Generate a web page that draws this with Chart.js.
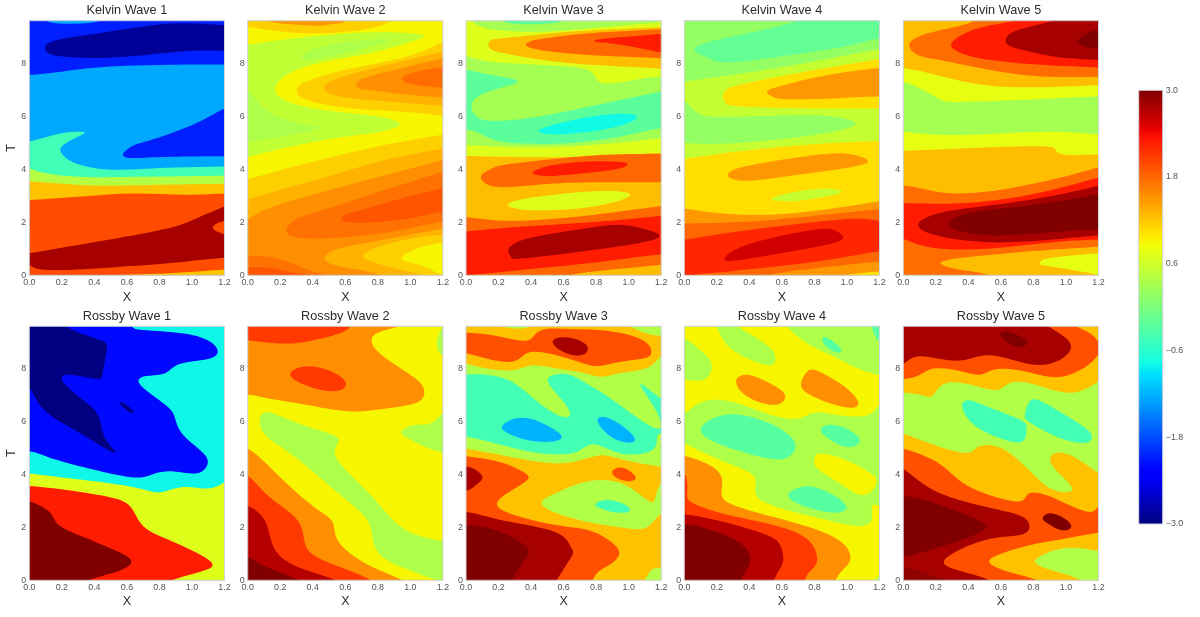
<!DOCTYPE html>
<html><head><meta charset="utf-8">
<style>html,body{margin:0;padding:0;background:#fff;width:1200px;height:617px;overflow:hidden}canvas{position:absolute}</style>
<script src="https://cdn.jsdelivr.net/npm/chart.js@4"></script></head><body>
<script>
// Contour regions: each region is x,T,x,T,... and its level value.
const fullPanel=[-3,-5,3,-5,3,15,-3,15];
const colorbarRange=[-3,3];
const colorbarTicks=[-3,-1.8,-0.6,0.6,1.8,3];
const xTickValues=[0,0.2,0.4,0.6,0.8,1,1.2];
const tTickValues=[0,2,4,6,8];

const kelvin1Levels=[-1.26,-2.07,-1.26,-2.88,-2.07,-0.43,0.41,1.23,1.98,1.23,2.8,1.98];
const kelvin1Contours=[fullPanel,
[-.1,7.5,0,7.55,.2,7.68,.4,7.82,.6,7.9,.8,7.93,1,7.95,1.2,7.95,1.3,7.95,1.3,11,-.1,11],
[.08,9.75,.13,9.55,.25,9.5,.4,9.55,.5,9.75],
[.1,8.57,.13,8.78,.23,8.94,.43,9.13,.64,9.32,.85,9.48,1.05,9.48,1.2,9.43,1.3,9.43,1.3,8.46,1.2,8.46,.97,8.46,.72,8.31,.43,8.2,.23,8.25,.13,8.36],
[.58,4.57,.62,4.8,.68,4.98,.845,5.3,1.05,5.8,1.2,6.3,1.3,6.45,1.3,4.45,1.2,4.49,.97,4.48,.74,4.45,.62,4.43],
[-.1,5,0,5.05,.13,5.25,.23,5.38,.34,5.38,.28,5.18,.22,4.93,.2,4.67,.29,4.23,.5,4,.74,4.04,1.2,4.1,1.3,4.1,1.3,3,-.1,3],
[-.1,4.15,0,4.06,.09,3.87,.33,3.72,.64,3.72,1.2,3.76,1.3,3.76,1.3,3,-.1,3],
[-.1,3.58,0,3.56,.33,3.4,.74,3.41,1.2,3.45,1.3,3.45,1.3,2,-.1,2],
[-.1,2.82,0,2.84,.33,2.97,.64,3.09,.95,3.03,1.2,3.09,1.3,3.1,1.3,-.6,-.1,-.6],
[.5,-.1,.55,0,.8,.06,1,.13,1.2,.22,1.3,.25,1.3,-.4],
[-.1,.75,0,.83,.23,1.08,.54,1.4,.85,1.77,1,2.09,1.2,2.6,1.3,2.85,1.3,.6,1.2,.67,.85,.45,.54,.33,.09,.19,0,.5,-.1,.4],
[1.3,2.15,1.2,2.05,1.13,1.8,1.2,1.56,1.3,1.45]];

const kelvin2Levels=[0.9,0.51,0.36,0.36,1.14,1.32,1.56,1.77,1.14,1.32,1.56,1.74,1.92,1.32,1.14,0.9,1.74,1.92,1.14,1.5];
const kelvin2Contours=[fullPanel,
[-.1,8.65,0,8.69,.23,8.9,.54,9.07,.84,9.17,1.07,9.03,.99,8.82,.8,8.44,.54,8.13,.29,7.69,.18,7,.29,6.49,.54,6.18,.79,5.99,.92,5.72,.82,5.43,.54,5.18,.23,4.8,0,4.45,-.1,4.3],
[.342,8.31,.434,8.57,.64,8.82,.823,8.88,.84,8.8,.64,8.44,.455,8.19,.362,8.15],
[-.1,7.2,0,7,.086,6.36,.19,5.99,.33,5.71,.444,5.58,.33,5.38,.19,5.2,0,5.04,-.1,5],
[1.3,8.9,1.2,8.82,.99,8.25,.64,7.81,.37,7.31,.32,6.99,.37,6.62,.64,6.3,.95,6.18,1.2,6.01,1.3,5.95],
[1.3,8.55,1.2,8.44,.946,8.06,.7,7.69,.536,7.37,.479,7.09,.536,6.81,.74,6.62,1.2,6.39,1.3,6.3],
[1.3,8.3,1.2,8.19,.946,7.81,.782,7.56,.7,7.38,.67,7.18,.7,7.02,.782,6.97,.987,6.81,1.2,6.72,1.3,6.7],
[1.3,7.9,1.2,7.84,1.05,7.69,.95,7.4,1.05,7.18,1.2,7.08,1.3,7.05],
[-.1,3.5,0,3.62,.229,4.01,.536,4.48,.844,4.92,1.2,5.3,1.3,5.4,1.3,-.6,-.1,-.6],
[-.1,2.75,0,2.87,.229,3.28,.536,3.79,.844,4.35,1.2,4.77,1.3,4.85,1.3,-.6,-.1,-.6],
[-.1,1.95,0,2.09,.127,2.53,.434,3.09,.74,3.6,1.2,4.35,1.3,4.5,1.3,-.6,-.1,-.6],
[.24,1.71,.27,1.95,.33,2.2,.536,2.59,.844,3.22,1.2,3.91,1.3,4.1,1.3,1.95,1.2,2.03,.946,1.71,.64,1.46,.373,1.4,.27,1.52],
[.58,2.13,.62,2.32,.74,2.53,.946,2.9,1.2,3.28,1.3,3.4,1.3,2.3,1.2,2.4,.946,2.09,.7,1.99,.62,2.02],
[.48,.68,.577,1.02,.782,1.27,.987,1.52,1.2,1.74,1.3,1.8,1.3,-.5,.9,-.3,.823,0,.64,.26,.536,.39],
[.72,.68,.75,.9,.844,1.14,1.05,1.43,1.2,1.52,1.3,1.55,1.3,-.5,1.1,-.3,1.07,0,.946,.18,.8,.45],
[.956,.68,1.05,1.02,1.2,1.23,1.3,1.3,1.3,-.1,1.2,0,1.09,.33,.987,.52],
[-.1,.7,0,.7,.127,.7,.27,.45,.393,.14,.475,0,.55,-.3,-.1,-.3],
[-.1,.29,0,.29,.127,.29,.29,.08,.37,0,.45,-.3,-.1,-.3],
[-.1,9.42,0,9.38,.229,9.19,.5,9.15,.74,9.32,.88,9.6,.95,10,-.1,10],
[.08,10,.127,9.6,.27,9.48,.414,9.41,.536,9.5,.6,9.6,.65,10]];

const kelvin3Levels=[0.3,-0.24,0.72,1.26,1.8,2.28,-0.24,-0.78,0.72,1.26,1.8,2.28,0.72,1.8,2.28,1.26,2.8];
const kelvin3Contours=[fullPanel,
[.2,9.75,.28,9.5,.55,9.52,.6,9.75],
[-.1,9.75,0,9.7,.04,9.6,.14,9.3,.45,9.2,.75,9.32,1.2,9.54,1.3,9.56,1.3,7.35,1.2,7.5,.998,7.33,.845,7.25,.79,7.5,.71,7.81,.445,7.94,.137,8.06,0,8.31,-.1,8.4],
[.141,8.69,.165,8.87,.24,8.94,.547,9.13,.855,9.26,1.2,9.35,1.3,9.4,1.3,7.7,1.2,7.79,.752,7.94,.466,8.13,.24,8.38,.165,8.5],
[.38,8.67,.41,8.83,.507,8.94,.752,9.13,1.2,9.28,1.3,9.32,1.3,8.1,1.2,8.19,.752,8.31,.466,8.5],
[.79,8.84,.87,8.93,.957,8.98,1.2,9.1,1.3,9.15,1.3,8.3,1.2,8.4,.957,8.69,.86,8.76],
[-.1,7.85,0,7.75,.137,7.56,.316,7.33,.2,7.06,.076,6.74,.04,6.36,.076,5.99,.178,5.84,.445,5.99,.752,6.36,1.2,6.93,1.3,7.05,1.3,5.4,1.2,5.55,.957,5.23,.65,5,.342,4.98,.178,5.11,.076,5.38,0,5.48,-.1,5.5],
[.455,5.45,.547,5.67,.752,5.96,.957,6.08,1.04,5.96,.957,5.67,.752,5.42,.547,5.32],
[-.1,4.95,0,4.92,.24,4.86,.65,4.86,1.2,5.17,1.3,5.25,1.3,-.6,-.1,-.6],
[-.1,4.5,0,4.5,.547,4.45,.957,4.54,1.2,4.6,1.3,4.6,1.3,-.6,-.1,-.6],
[.1,3.79,.178,4.04,.24,4.16,.547,4.38,.855,4.54,1.2,4.58,1.3,4.58,1.3,3.5,1.2,3.51,.855,3.5,.547,3.47,.24,3.32,.127,3.5],
[.414,3.89,.46,4.02,.547,4.16,.752,4.29,.957,4.26,.977,4.14,.916,4,.752,3.87,.547,3.75,.445,3.79],
[.266,2.68,.363,2.88,.547,3.03,.793,3.16,.957,3.13,.998,3,.916,2.78,.752,2.57,.547,2.47,.342,2.49],
[-.1,2.25,0,2.21,.24,2.06,.547,2.15,.855,2.34,1.2,2.62,1.3,2.7,1.3,-.6,-.1,-.6],
[-.1,1.62,0,1.65,.342,1.84,.752,1.99,1.2,2.24,1.3,2.3,1.3,.7,1.2,.79,.855,.52,.342,.2,.014,0,-.1,-.1],
[.65,0,.855,.18,1.2,.39,1.3,.45,1.3,-.6,.6,-.3],
[.266,.96,.342,1.31,.547,1.58,.752,1.77,.937,1.9,1.08,1.74,1.18,1.52,1.1,1.27,.855,1.02,.547,.77,.32,.63,.29,.7]];

const kelvin4Levels=[0.54,0.18,-0.18,0.18,1.05,1.5,1.05,1.5,0.54,1.5,1.8,2.22,1.5,1.05,2.58];
const kelvin4Contours=[fullPanel,
[-.1,11,1.3,11,1.3,8.55,1.2,8.53,.744,8,.334,7.6,0,7.31,-.1,7.25],
[.07,8.5,.17,8.82,.437,9.19,.7,9.6,.8,9.9,1.3,9.9,1.3,8.85,1.2,8.94,.95,8.57,.57,8.25,.26,8.03,.15,8.25],
[-.1,6.8,0,6.62,.088,6.11,.23,5.99,.54,6.01,.846,6.01,1.045,5.71,.846,5.36,.54,5.11,.23,4.96,0,5,-.1,5.02],
[.24,6.75,.27,7,.334,7.15,.64,7.56,1.2,8.15,1.3,8.25,1.3,6.2,1.2,6.29,.744,6.29,.334,6.38,.27,6.52],
[.512,6.89,.55,7.05,.64,7.2,.9,7.57,1.2,7.81,1.3,7.85,1.3,6.7,1.2,6.74,.946,6.68,.64,6.64,.56,6.73],
[-.1,4.35,0,4.38,.334,4.67,.744,4.92,1.2,5.07,1.3,5.1,1.3,-.6,-.1,-.6],
[.277,3.81,.334,4.04,.54,4.29,.785,4.5,.99,4.58,1.118,4.31,1.03,4.1,.785,3.87,.54,3.66,.375,3.57,.293,3.66],
[.55,2.9,.64,3.09,.846,3.26,.96,3.16,.867,2.97,.703,2.82,.58,2.82],
[-.1,2.55,0,2.53,.23,2.34,.54,2.3,.846,2.47,1.2,2.8,1.3,2.9,1.3,-.6,-.1,-.6],
[-.1,1.95,0,1.96,.23,1.99,.54,2.09,.846,2.28,1.2,2.49,1.3,2.55,1.3,-.6,-.1,-.6],
[-.1,1.2,0,1.33,.334,1.65,.744,1.96,1.05,2.13,1.2,2.03,1.3,2,1.3,.85,1.2,.93,.744,.45,0,0,-.1,-.1],
[.45,-.3,.52,0,.846,.29,1.2,.52,1.3,.58,1.3,-.6],
[.92,-.3,.99,0,1.2,.14,1.3,.2,1.3,-.6],
[.262,.64,.334,1.02,.54,1.4,.744,1.65,.887,1.74,.963,1.46,.908,1.21,.64,.89,.334,.58]];

const kelvin5Levels=[0.3,0.78,1.26,1.77,2.28,2.8,3,0.78,1.26,1.77,2.28,2.8,3,1.26,0.78];
const kelvin5Contours=[fullPanel,
[-.1,11,1.3,11,1.3,6.7,1.2,6.74,.74,6.62,.33,6.55,.226,6.68,.1,7.06,0,7.27,-.1,7.3],
[-.1,11,1.3,11,1.3,7.15,1.2,7.18,.74,7.09,.43,7.25,.165,7.62,0,7.81,-.1,7.85],
[.045,8.69,.123,9.07,.33,9.38,.43,9.6,.5,10,1.3,10,1.3,7.5,1.2,7.5,.844,7.5,.535,7.75,.226,8.13,.1,8.31],
[.3,8.69,.37,9.07,.494,9.38,.68,9.6,.75,10,1.3,10,1.3,7.8,1.2,7.84,.844,7.94,.535,8.13,.37,8.38],
[.632,8.84,.66,9.1,.74,9.32,.905,9.57,1,9.9,1.3,9.9,1.3,8.1,1.2,8.13,.947,8.23,.74,8.5,.66,8.65],
[1.075,8.85,1.15,9.17,1.2,9.22,1.3,9.25,1.3,8.5,1.2,8.53,1.13,8.63],
[-.1,5.45,0,5.42,.226,5.3,.535,5.33,.905,5.42,1.2,5.3,1.3,5.25,1.3,-.6,-.1,-.6],
[-.1,4.7,0,4.7,.33,4.77,.823,4.86,.926,4.73,.99,4.54,1.2,4.57,1.3,4.57,1.3,-.6,-.1,-.6],
[-.1,3.4,0,3.38,.123,3.28,.33,3.09,.638,3.28,.947,3.66,1.2,4.08,1.3,4.2,1.3,-.6,-.1,-.6],
[-.1,2.72,0,2.72,.33,2.72,.638,2.9,.947,3.28,1.2,3.69,1.3,3.8,1.3,1.3,1.2,1.33,.947,1.27,.535,1.02,.185,1.04,0,1.4,-.1,1.5],
[.103,1.9,.165,2.21,.33,2.47,.638,2.72,.947,3.03,1.2,3.38,1.3,3.5,1.3,1.5,1.2,1.51,.74,1.27,.43,1.31,.185,1.56],
[.3,1.9,.37,2.28,.638,2.53,.947,2.78,1.2,3.07,1.3,3.2,1.3,1.7,1.2,1.71,.947,1.65,.6,1.5,.39,1.65],
[.236,.45,.3,.6,.43,.7,.74,.89,1.2,1.08,1.3,1.12,1.3,-.6,.6,-.4,.535,0,.33,.23],
[.84,.45,.875,.6,.947,.68,1.2,.83,1.3,.88,1.3,-.1,1.2,0,1.15,.08,.947,.3,.875,.36]];

const rossby1Levels=[-0.8,-2.2,-3,-3,0.72,2.28,3];
const rossby1Contours=[fullPanel,
[.64,10,.64,9.56,.74,9.45,.948,9.32,1.09,9.07,1.15,8.69,1.11,8.38,.967,8.25,.886,8.06,.825,7.79,.72,7.72,.677,7.52,.72,7.18,.825,6.68,.886,6.3,.917,5.74,.99,5.23,1.07,4.79,1.09,4.42,1.03,4.04,.886,4.13,.763,4.04,.66,3.89,.435,4.14,.168,4.54,0,4.88,-.1,4.7,-.1,10],
[-.1,10,.23,10,.23,9.56,.435,9.07,.47,8.75,.445,7.87,.414,7.62,.25,7.77,.21,7.5,.33,6.8,.425,6.24,.455,5.42,.527,4.89,.455,5.04,.27,5.74,.086,6.43,0,7.31,-.1,7.4],
[.553,6.72,.6,6.62,.64,6.34,.6,6.43],
[-.1,4.1,0,4.04,.33,3.79,.64,3.53,.784,3.32,.886,3.47,.99,3.53,1.11,3.47,1.2,3.72,1.3,3.95,1.3,-.6,-.1,-.6],
[-.1,3.6,0,3.56,.23,3.41,.496,3.12,.62,2.78,.7,2.03,.845,1.58,1.03,1.02,1.118,.6,1.05,.33,.876,0,.8,-.4,-.1,-.4],
[-.1,3.1,0,2.97,.127,2.59,.178,2.09,.33,1.65,.517,1.14,.62,.73,.537,.33,.363,0,.3,-.4,-.1,-.4]];

const rossby2Levels=[0.9,1.56,2.1,2.1,0.36,0.36,0.36,1.56,2.1,2.72,3];
const rossby2Contours=[fullPanel,
[-.1,6.95,0,7.02,.123,6.87,.33,6.68,.618,6.39,.803,6.49,1.03,6.7,1.073,7.18,1.03,7.62,.885,8.25,.782,8.82,.79,9.32,.936,9.6,1,10,-.1,10],
[-.1,9.05,0,9.09,.23,8.94,.434,9.13,.577,9.38,.63,9.6,.68,10,-.1,10],
[.27,7.69,.31,8,.414,8.06,.536,7.81,.598,7.43,.536,7.16,.393,7.31],
[1.25,10,1.2,9.6,1.167,9,1.2,8.5,1.3,8.4,1.3,10],
[.95,5.63,1.03,5.89,1.13,5.92,1.2,6.33,1.3,6.5,1.3,4.7,1.2,4.82,1.07,5.11,.977,5.42],
[.086,6.11,.137,6.33,.33,5.86,.547,5.42,.536,4.98,.577,4.35,.762,3.22,.905,2.21,1.05,1.71,1.2,1.5,1.3,1.45,1.3,-.2,1.17,0,1,.39,.844,.83,.772,1.46,.742,2.21,.618,2.97,.496,3.6,.33,4.48,.19,5.11,.096,5.61],
[-.1,5.1,0,4.98,.123,4.35,.25,3.6,.414,2.72,.526,2.21,.557,1.46,.742,.58,.956,0,1,-.4,-.1,-.4],
[-.1,4.1,0,3.97,.123,3.16,.29,2.4,.342,1.71,.383,1.08,.536,.58,.762,0,.8,-.4,-.1,-.4],
[-.1,2.9,0,2.8,.096,2.34,.137,1.71,.188,1.02,.33,.45,.547,0,.6,-.4,-.1,-.4],
[-.1,.95,0,.89,.127,.45,.32,0,.38,-.4,-.1,-.4]];

const rossby3Levels=[0.39,1.23,1.95,2.8,-0.42,-1.2,-1.2,1.23,0.39,1.95,-0.42,1.95,2.8,2.8,3,0.39];
const rossby3Contours=[fullPanel,
[-.1,9.6,0,9.7,.2,9.6,.35,9.52,.42,9.75,.96,9.75,1.1,9.35,1.2,9.26,1.3,9.2,1.3,8.7,1.2,8.5,1.12,8.03,.957,7.87,.834,7.69,.711,7.87,.547,8,.404,8.13,.3,7.94,.137,8,0,8.19,-.1,8.25],
[-.1,9.35,0,9.35,.178,9.26,.363,9.04,.424,9.32,.506,9.5,.63,9.48,.813,9.45,1,9.26,1.11,8.94,1.13,8.57,1.08,8.38,.916,8.25,.793,8.1,.63,8.38,.404,8.65,.32,8.31,.178,8.31,0,8.59,-.1,8.6],
[.537,9,.588,9.17,.69,9.07,.746,8.75,.69,8.5,.588,8.69],
[-.1,7.8,0,7.77,.137,7.75,.28,7.5,.404,6.93,.547,6.3,.63,6.24,.608,6.68,.516,7.37,.527,7.69,.63,7.77,.752,7.37,.895,6.87,1.16,5.74,1.17,6.36,1.08,7.25,1.1,7.33,1.2,6.87,1.3,6.7,1.3,5.6,1.2,5.55,1.17,5.36,1.14,4.92,.957,4.77,.793,5.17,.69,4.86,.547,4.79,.342,4.92,0,5.45,-.1,5.4],
[.225,5.77,.28,6.05,.383,6.11,.506,5.8,.582,5.45,.527,5.26,.383,5.3,.27,5.55],
[.813,5.99,.855,6.14,.936,5.92,1.03,5.42,1,5.23,.895,5.42],
[-.1,5,0,4.98,.342,4.6,.608,4.42,.813,4.73,.957,4.54,1.2,4.29,1.3,4.2,1.3,-.6,-.1,-.6],
[.475,2.97,.588,3.35,.752,3.72,.957,3.66,1.11,3.04,1.16,3.1,1.2,3.7,1.3,4,1.3,2.3,1.2,2.54,1.11,1.98,.957,2.03,.752,2.21,.547,2.59],
[-.1,4.7,0,4.67,.2,4.48,.342,4.1,.377,3.85,.32,3.53,.2,2.97,.28,2.53,.547,2.09,.752,1.9,.895,1.4,.936,1.02,.895,.64,.813,.33,.78,0,.72,-.5,-.1,-.5],
[.8,2.87,.875,3.03,.977,2.84,1,2.62,.916,2.57,.834,2.72],
[.9,4.1,.957,4.26,1.02,4.04,1.04,3.85,1,3.75,.936,3.85],
[-.1,4.3,0,4.29,.055,4.16,.1,3.87,.055,3.6,0,3.38,-.1,3.3],
[-.1,2.5,0,2.59,.24,2.21,.547,1.84,.63,1.27,.654,1.02,.608,.52,.557,0,.5,-.5,-.1,-.5],
[-.1,2.05,0,2.09,.178,1.9,.32,1.46,.383,1.08,.342,.64,.28,0,.22,-.5,-.1,-.5],
[1.05,-.3,1.1,0,1.14,.39,1.2,.45,1.3,.5,1.3,-.3]];

const rossby4Levels=[0.9,0.36,0.36,0.36,0.36,0.9,-0.27,-0.27,-0.27,-0.27,-0.27,1.56,1.56,1.56,2.1,2.72,3,0.36];
const rossby4Contours=[fullPanel,
[-.1,9.2,0,9.13,.068,8.82,.15,8.38,.16,7.94,.109,7.56,0,7.6,-.1,7.55],
[.15,10,.2,9.6,.25,9,.355,8.5,.509,8.15,.55,8.31,.54,8.69,.437,9.19,.33,9.6,.3,10],
[.55,10,.63,9.6,.744,9,.908,8.5,1.07,8,1.2,7.77,1.3,7.7,1.3,10],
[-.1,6.1,0,6.3,.088,6.68,.19,6.8,.334,6.68,.54,6.24,.703,6.11,.806,6.36,.95,6.24,1.133,6.24,1.2,6.68,1.3,6.9,1.3,2.7,1.2,2.8,1.15,2.78,1.145,2.21,1.03,2.09,.846,2.34,.54,2.84,.437,3.35,.426,3.97,.232,4.48,0,5.17,-.1,5.3],
[.81,4.6,.846,4.77,.99,4.54,1.155,3.97,1.165,3.6,1.09,3.22,.95,3.72,.82,4.23],
[.109,5.71,.19,6.11,.334,6.24,.54,5.86,.672,5.23,.64,4.73,.54,4.6,.334,4.92,.17,5.3],
[.842,5.67,.908,5.86,1.01,5.67,1.076,5.3,1.01,5.04,.908,5.3],
[.646,3.26,.744,3.53,.867,3.35,.99,2.84,.93,2.57,.785,2.72,.682,2.97],
[.853,9.13,.887,9.13,.963,8.75,.93,8.63,.867,8.88],
[1.13,10,1.155,9.6,1.2,9,1.3,8.8,1.3,10],
[.324,7.5,.355,7.72,.437,7.69,.56,7.31,.615,6.99,.58,6.68,.477,6.72,.365,7.06],
[.723,7.43,.764,7.87,.826,7.87,.97,7.37,1.06,6.8,1.03,6.55,.908,6.68,.764,7.06],
[-.1,4.75,0,4.69,.15,4.35,.232,3.85,.232,3.22,.314,2.84,.54,2.4,.785,1.96,.97,1.4,1.014,.77,.97,.39,.93,0,.9,-.5,-.1,-.5],
[-.1,4.2,0,4.04,.022,3.35,.047,2.97,.232,2.53,.54,2.09,.744,1.58,.812,.77,.765,.33,.74,0,.7,-.5,-.1,-.5],
[-.1,2.45,0,2.49,.232,2.21,.498,1.71,.58,1.33,.606,.77,.58,.39,.55,0,.5,-.5,-.1,-.5],
[-.1,2.05,0,2.11,.19,1.84,.355,1.33,.4,.77,.375,.33,.344,0,.3,-.5,-.1,-.5],
[1.15,-.2,1.175,0,1.2,.14,1.3,.2,1.3,-.3]];

const rossby5Levels=[0.39,1.23,1.95,2.8,3,-0.42,-0.42,1.23,1.95,2.8,3,2.92,3,1.23,0.39];
const rossby5Contours=[fullPanel,
[-.1,7,0,7.09,.123,7,.185,6.97,.257,7.46,.43,7.37,.576,7.18,.658,7.46,.803,7.43,1.03,7.06,1.2,7.56,1.3,7.8,1.3,11,-.1,11],
[-.1,7.55,0,7.6,.103,7.75,.185,8,.33,7.94,.473,7.75,.576,8,.782,7.87,.967,7.69,1.15,8.25,1.2,8.82,1.15,9.32,1.06,9.6,1,10,-.1,10],
[-.1,8,0,8.13,.103,8.5,.33,8.25,.5,8.53,.68,8.31,.823,8.15,.947,8.31,1.025,8.75,.988,9.2,.885,9.6,.8,10,-.1,10],
[.6,9.28,.64,9.4,.74,9.13,.755,8.94,.7,8.82,.63,9.07],
[.37,6.49,.41,6.78,.535,6.49,.72,6.05,.747,5.74,.73,5.26,.617,5.36,.453,5.8],
[.757,6.24,.79,6.78,.885,6.62,1.09,5.86,1.148,5.48,1.11,5.21,.947,5.42,.782,5.99],
[-.1,5.65,0,5.55,.226,5.04,.4,4.82,.46,5.04,.61,4.98,.782,4.1,.905,3.47,1.03,3.41,.998,3.79,.916,4.35,.926,4.73,1.03,4.73,1.2,4.04,1.3,3.8,1.3,-.6,-.1,-.6],
[-.1,5,0,4.96,.185,4.54,.31,3.97,.432,3.47,.7,2.97,.76,3.25,.885,3.22,1.13,2.57,1.2,2.9,1.3,3.1,1.3,-.6,-.1,-.6],
[-.1,4.35,0,4.23,.165,3.47,.39,2.97,.638,2.59,.74,2.34,.767,2.03,.72,1.71,.535,1.58,.33,1.08,.26,.68,.33,.39,.535,0,.6,-.5,-.1,-.5],
[-.1,3.15,0,3.19,.226,2.84,.432,2.34,.494,2.03,.43,1.71,.226,1.27,0,.89,-.1,.85],
[-.1,.55,0,.52,.123,.26,.257,0,.32,-.4,-.1,-.4],
[.86,2.34,.905,2.53,.985,2.34,1.03,2.03,.967,1.9,.894,2.15],
[.535,.7,.617,1.02,.782,1.33,.947,1.52,1.2,1.8,1.3,1.9,1.3,-.5,.78,-.3,.823,0,.638,.33],
[.81,.7,.947,1.14,1.07,1.21,1.2,1.11,1.3,1.1,1.3,-.3,1.05,-.3,1.09,0,.947,.33]];

const panelTitles=["Kelvin Wave 1","Kelvin Wave 2","Kelvin Wave 3","Kelvin Wave 4","Kelvin Wave 5","Rossby Wave 1","Rossby Wave 2","Rossby Wave 3","Rossby Wave 4","Rossby Wave 5"];
const panelLevels=[kelvin1Levels,kelvin2Levels,kelvin3Levels,kelvin4Levels,kelvin5Levels,rossby1Levels,rossby2Levels,rossby3Levels,rossby4Levels,rossby5Levels];
const panelContours=[kelvin1Contours,kelvin2Contours,kelvin3Contours,kelvin4Contours,kelvin5Contours,rossby1Contours,rossby2Contours,rossby3Contours,rossby4Contours,rossby5Contours];

const colLeft=[29.3,247.7,466,684.3,903.3], rowTop=[20.7,326.3], plotW=195.2, plotH=[254.6,254];
const FONT='"Liberation Sans",Arial,sans-serif', FRAME='#cfd3da';

function lerp(stops,t){for(let i=1;i<stops.length;i++){if(t<=stops[i][0]){const a=stops[i-1],b=stops[i];return a[1]+(b[1]-a[1])*(t-a[0])/(b[0]-a[0]);}}return stops[stops.length-1][1];}
const jetR=[[0,0],[.35,0],[.66,1],[.89,1],[1,.5]],jetG=[[0,0],[.125,0],[.375,1],[.64,1],[.91,0],[1,0]],jetB=[[0,.5],[.11,1],[.34,1],[.65,0],[1,0]];
function jet(t){t=Math.min(1,Math.max(0,t));return `rgb(${Math.round(255*lerp(jetR,t))},${Math.round(255*lerp(jetG,t))},${Math.round(255*lerp(jetB,t))})`;}
function levelColor(v){return jet((v-colorbarRange[0])/(colorbarRange[1]-colorbarRange[0]));}

// Traces a closed smooth outline through each region's points as placed by the chart's scales.
// Points outside the plot are kept as hard corners so that they never pull on the visible edge.
function smoothClosedPath(ctx,pts,a){
  const n=pts.length,K=1.5,ctrl=[];
  const isHard=p=>p.x<a.left-3||p.x>a.right+3||p.y<a.top-3||p.y>a.bottom+3;
  for(let i=0;i<n;i++){
    const p=pts[i];
    if(isHard(p)){for(let r=0;r<3;r++)ctrl.push({x:p.x,y:p.y});continue;}
    const u=pts[(i+n-1)%n],v=pts[(i+1)%n];
    const sx=(u.x+4*p.x+v.x)/6,sy=(u.y+4*p.y+v.y)/6;
    ctrl.push({x:p.x+K*(p.x-sx),y:p.y+K*(p.y-sy)});
  }
  const m=ctrl.length,at=i=>ctrl[(i+m)%m];
  ctx.moveTo((at(-1).x+4*at(0).x+at(1).x)/6,(at(-1).y+4*at(0).y+at(1).y)/6);
  for(let i=0;i<m;i++){const c1=at(i),c2=at(i+1),c3=at(i+2);
    ctx.bezierCurveTo((2*c1.x+c2.x)/3,(2*c1.y+c2.y)/3,(c1.x+2*c2.x)/3,(c1.y+2*c2.y)/3,(c1.x+4*c2.x+c3.x)/6,(c1.y+4*c2.y+c3.y)/6);}
  ctx.closePath();
}
const regionFill={id:'regionFill',beforeDatasetDraw(chart,args){
  const els=args.meta.data; if(!els||els.length<3||chart.config.type!=='scatter')return;
  const a=chart.chartArea,ctx=chart.ctx;
  ctx.save();ctx.beginPath();ctx.rect(a.left,a.top,a.width,a.height);ctx.clip();
  ctx.beginPath();smoothClosedPath(ctx,els,a);
  ctx.fillStyle=chart.data.datasets[args.index].backgroundColor;ctx.fill();ctx.restore();
}};
const frame={id:'frame',afterDraw(chart){const a=chart.chartArea,c=chart.ctx;c.save();c.strokeStyle=FRAME;c.lineWidth=1;c.strokeRect(a.left,a.top,a.width,a.height);c.restore();}};

function addCanvas(left,top,w,h){const c=document.createElement('canvas');c.width=w;c.height=h;c.style.cssText=`left:${left}px;top:${top}px;width:${w}px;height:${h}px`;document.body.appendChild(c);return c;}

panelTitles.forEach((title,i)=>{
  const col=i%5,row=Math.floor(i/5);
  const px=colLeft[col],py=rowTop[row],ph=plotH[row];
  const cl=Math.floor(px-29.3),ct=Math.floor(py-20.7);
  const cw=Math.ceil(29.3+plotW+12),chh=Math.ceil(20.7+ph+29);
  const yW=px-cl, topPad=py-ct;
  const titleSize=12.7,titleH=titleSize*1.2,titleTop=topPad-20.7+3.2;
  const datasets=panelContours[i].map((flat,k)=>{
    const pts=[];for(let n=0;n<flat.length;n+=2)pts.push({x:flat[n],y:flat[n+1]});
    return {data:pts,backgroundColor:levelColor(panelLevels[i][k]),showLine:false,borderWidth:0,pointRadius:0,pointHoverRadius:0,order:-k};
  });
  new Chart(addCanvas(cl,ct,cw,chh),{type:'scatter',data:{datasets},plugins:[regionFill,frame],options:{
    responsive:false,animation:false,devicePixelRatio:1,
    layout:{autoPadding:false,padding:{left:0,top:0,right:cw-yW-plotW,bottom:0}},
    plugins:{legend:{display:false},tooltip:{enabled:false},
      title:{display:true,fullSize:false,text:title,color:'#2b2b2b',font:{family:FONT,size:titleSize,weight:'normal',lineHeight:1.2},padding:{top:titleTop,bottom:topPad-titleTop-titleH}}},
    scales:{
      x:{type:'linear',min:0,max:1.2,grid:{display:false,drawTicks:false},border:{display:false},
        afterBuildTicks(s){s.ticks=xTickValues.map(v=>({value:v}));},
        afterFit(s){s.height=chh-topPad-ph;},
        ticks:{autoSkip:false,maxRotation:0,padding:2,color:'#555',font:{family:FONT,size:8.9},callback:v=>Number(v).toFixed(1)},
        title:{display:true,text:'X',color:'#2b2b2b',font:{family:FONT,size:12.5,weight:'normal'},padding:{top:0,bottom:0}}},
      y:{type:'linear',min:0,max:9.6,grid:{display:false,drawTicks:false},border:{display:false},
        afterBuildTicks(s){s.ticks=tTickValues.map(v=>({value:v}));},
        afterFit(s){s.width=yW;},
        ticks:{autoSkip:false,padding:3,color:'#555',font:{family:FONT,size:8.9},callback:v=>String(v)},
        title:{display:col===0,text:'T',color:'#2b2b2b',font:{family:FONT,size:12.5,weight:'normal'},padding:{top:4.5,bottom:0}}}
    }}});
});

// colour bar
const barLeft=1138.7,barTop=90.3,barW=24,barH=433.7;
const cbL=1138,cbT=78,cbW=60,cbH=458;
new Chart(addCanvas(cbL,cbT,cbW,cbH),{type:'bar',data:{labels:['level'],datasets:[{data:[colorbarRange],barPercentage:1,categoryPercentage:1,borderSkipped:false,
  backgroundColor(ctx){const a=ctx.chart.chartArea;if(!a)return '#888';const g=ctx.chart.ctx.createLinearGradient(0,a.bottom,0,a.top);
    [0,.11,.125,.34,.35,.375,.64,.65,.66,.89,.91,1].forEach(t=>g.addColorStop(t,jet(t)));return g;}}]},
  plugins:[frame],options:{responsive:false,animation:false,devicePixelRatio:1,
   layout:{autoPadding:false,padding:{left:barLeft-cbL,top:barTop-cbT,right:0,bottom:cbH-(barTop-cbT)-barH}},
   plugins:{legend:{display:false},tooltip:{enabled:false}},
   scales:{x:{display:false},
    y:{position:'right',min:colorbarRange[0],max:colorbarRange[1],grid:{display:false,drawTicks:false},border:{display:false},
     afterBuildTicks(s){s.ticks=colorbarTicks.map(v=>({value:v}));},
     afterFit(s){s.width=cbW-(barLeft-cbL)-barW;},
     ticks:{autoSkip:false,padding:3,color:'#555',font:{family:FONT,size:8.9},callback:v=>Number(v).toFixed(1).replace('-','\u2212')}}}}});
</script></body></html>
